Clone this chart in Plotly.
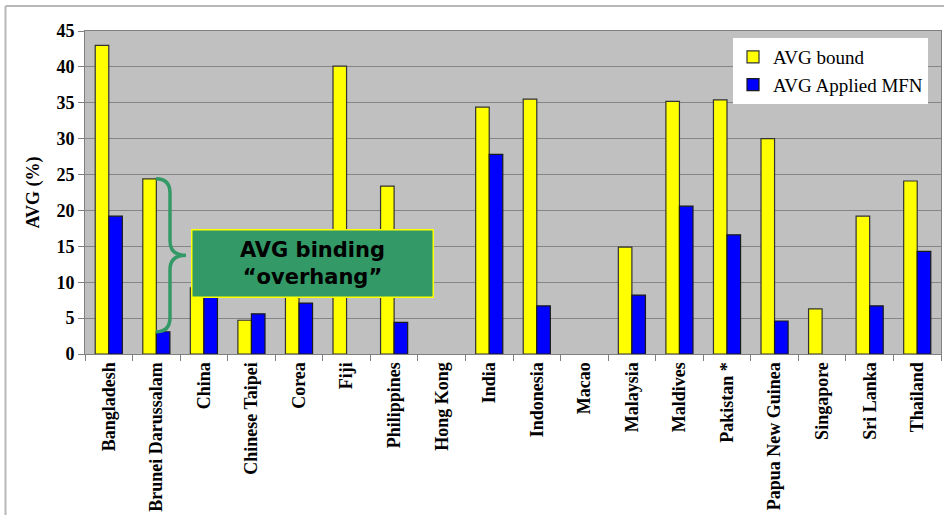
import plotly.graph_objects as go

# Average tariffs by economy (%)
economies = [
    "Bangladesh", "Brunei Darussalam", "China", "Chinese Taipei", "Corea", "Fiji",
    "Philippines", "Hong Kong", "India", "Indonesia", "Macao", "Malaysia",
    "Maldives", "Pakistan *", "Papua New Guinea", "Singapore", "Sri Lanka", "Thailand",
]
avg_bound = [43.0, 24.4, 9.2, 4.7, 16.0, 40.1, 23.4, None, 34.4, 35.5, None, 14.9,
             35.2, 35.4, 30.0, 6.3, 19.2, 24.1]
avg_applied_mfn = [19.2, 3.1, 8.5, 5.6, 7.1, None, 4.4, None, 27.8, 6.7, None, 8.2,
                   20.6, 16.6, 4.6, None, 6.7, 14.3]

y_ticks = [0, 5, 10, 15, 20, 25, 30, 35, 40, 45]

SERIF = "Liberation Serif"
GREEN = "#339966"

# plot-area geometry in page pixels
W, H = 944, 515
L, R, T, B = 85, 3, 31, 160.5
PW = W - L - R


def px_to_paper_x(px):
    return (px - L) / PW


def px_to_paper_y(py):
    return (H - B - py) / (H - T - B)


fig = go.Figure()
fig.add_trace(go.Bar(
    x=economies, y=avg_bound, name="AVG bound",
    marker=dict(color="#FFFF00", line=dict(color="#333333", width=1.2)),
))
fig.add_trace(go.Bar(
    x=economies, y=avg_applied_mfn, name="AVG Applied MFN",
    marker=dict(color="#0000FF", line=dict(color="#1a1a1a", width=1.2)),
))

# curly brace spanning the Brunei gap between bound and applied rates
top = avg_bound[1]
bot = avg_applied_mfn[1]
mid = (top + bot) / 2
r = 2.0
x0 = px_to_paper_x(156)
xv = px_to_paper_x(170)
xt = px_to_paper_x(186)
brace = (
    f"M {x0},{top} Q {xv},{top} {xv},{top - r} "
    f"L {xv},{mid + r} Q {xv},{mid} {xt},{mid} "
    f"Q {xv},{mid} {xv},{mid - r} "
    f"L {xv},{bot + r} Q {xv},{bot} {x0},{bot}"
)

shapes = [
    dict(type="path", path=brace, xref="paper", yref="y",
         line=dict(color=GREEN, width=3.5)),
    # page frame
    dict(type="line", xref="paper", yref="paper",
         x0=px_to_paper_x(5.5), x1=px_to_paper_x(5.5),
         y0=px_to_paper_y(6), y1=px_to_paper_y(520),
         line=dict(color="#B8B8B8", width=2)),
    dict(type="line", xref="paper", yref="paper",
         x0=px_to_paper_x(5.5), x1=px_to_paper_x(950),
         y0=px_to_paper_y(6), y1=px_to_paper_y(6),
         line=dict(color="#B8B8B8", width=2)),
]

fig.update_layout(
    width=W, height=H,
    margin=dict(l=L, r=R, t=T, b=B),
    paper_bgcolor="white",
    plot_bgcolor="#C0C0C0",
    barmode="group",
    bargap=0.43,
    bargroupgap=0,
    shapes=shapes,
    showlegend=True,
    legend=dict(
        x=px_to_paper_x(928), xanchor="right",
        y=px_to_paper_y(38), yanchor="top",
        bgcolor="white", borderwidth=0,
        font=dict(family=SERIF, size=19, color="black"),
        tracegroupgap=0,
    ),
    annotations=[dict(
        text="<b>AVG binding<br>“overhang”</b>",
        xref="paper", yref="paper",
        x=px_to_paper_x(312.5), y=px_to_paper_y(264),
        xanchor="center", yanchor="middle",
        width=238, height=64,
        showarrow=False,
        bgcolor=GREEN, bordercolor="#FFFF00", borderwidth=1.5,
        font=dict(family="DejaVu Sans", size=21, color="black"),
    )],
)

fig.update_xaxes(
    type="category",
    tickangle=-90,
    tickfont=dict(family=SERIF, size=18, color="black", weight="bold"),
    ticks="outside", tickson="boundaries", ticklen=6, tickcolor="#808080",
    showline=True, linecolor="#808080", linewidth=1, mirror=True,
    showgrid=False,
)
fig.update_yaxes(
    range=[0, 45],
    tickvals=y_ticks,
    tickfont=dict(family=SERIF, size=18, color="black", weight="bold"),
    ticks="outside", ticklen=6, tickcolor="#808080",
    showline=True, linecolor="#808080", linewidth=1, mirror=True,
    showgrid=True, gridcolor="#858585", gridwidth=1,
    zeroline=False,
    title=dict(text="AVG (%)", standoff=12,
               font=dict(family=SERIF, size=18, color="black", weight="bold")),
)

fig.write_html("out.html")
